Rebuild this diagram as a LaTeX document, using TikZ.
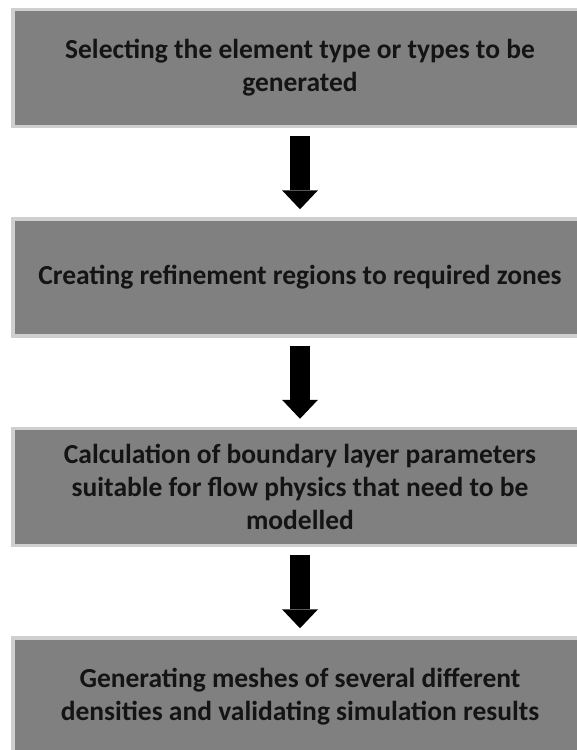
\documentclass[tikz,border=0pt]{standalone}
\usepackage{fontspec}
\setmainfont{Carlito}
\usetikzlibrary{arrows.meta}

\definecolor{boxgray}{HTML}{808080}
\definecolor{rimgray}{HTML}{CFCFCF}

\tikzset{
	stepbox/.style={rectangle, fill=boxgray, draw=rimgray, line width=3.5pt,
		minimum width=574pt, minimum height=117pt, align=center,
		font=\fontsize{27.5}{33}\selectfont\bfseries, text=black!92},
	downarrow/.style={line width=20pt, -{Triangle[width=36pt, length=19pt, line width=0pt]},
		shorten <=8pt, shorten >=8pt}
}

\begin{document}
\begin{tikzpicture}[x=1pt, y=-1pt, node distance=209.5pt]
				\clip (0,0) rectangle (577,750);
				% Steps of the meshing procedure
				\node (select) [stepbox] at (300,68) {Selecting the element type or types to be\\generated};
				\node (refine) [stepbox, below of=select] {Creating refinement regions to required zones};
				\node (layer) [stepbox, below of=refine] {Calculation of boundary layer parameters\\suitable for flow physics that need to be\\modelled};
				\node (meshes) [stepbox, below of=layer] {Generating meshes of several different\\densities and validating simulation results};
				
				\draw[downarrow] (select) -- (refine);
				\draw[downarrow] (refine) -- (layer);
				\draw[downarrow] (layer) -- (meshes);
			\end{tikzpicture}
\end{document}
